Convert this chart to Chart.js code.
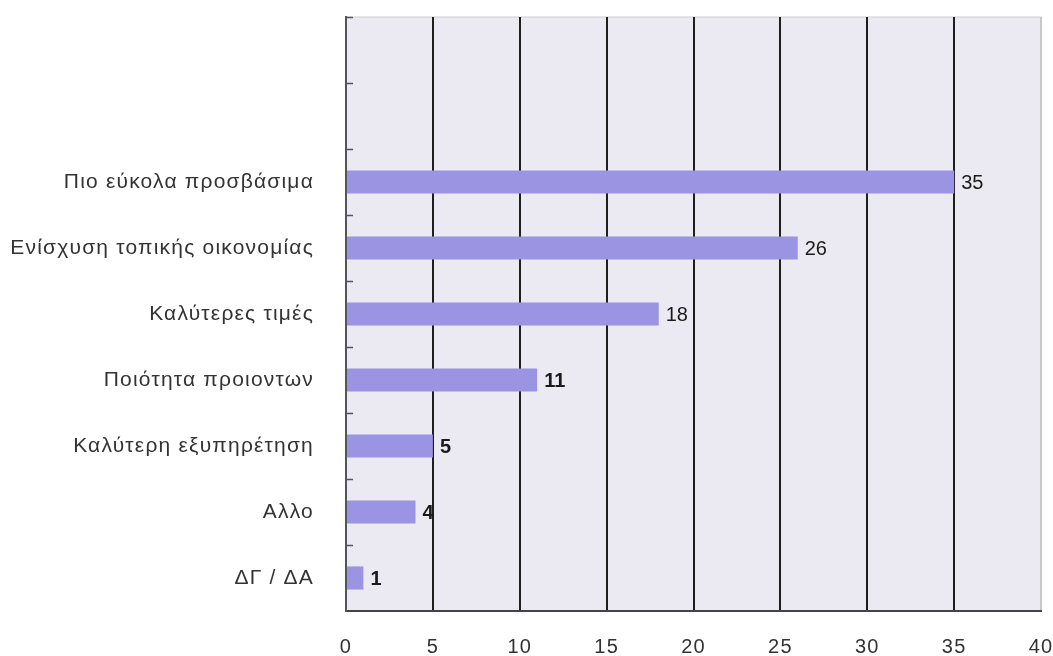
<!DOCTYPE html>
<html>
<head>
<meta charset="utf-8">
<script src="https://cdn.jsdelivr.net/npm/chart.js@4/dist/chart.umd.min.js"></script>
<style>
  html, body { margin: 0; padding: 0; background: #fff; }
  #wrap { width: 1053px; height: 656px; }
</style>
</head>
<body>
<div id="wrap"><canvas id="myChart" width="1053" height="656"></canvas></div>
<script>
// categories, top to bottom (two empty rows on top as in the original)
var reasons = ["", "", "Πιο εύκολα προσβάσιμα", "Ενίσχυση τοπικής οικονομίας", "Καλύτερες τιμές",
  "Ποιότητα προιοντων", "Καλύτερη εξυπηρέτηση", "Αλλο", "ΔΓ / ΔΑ"];
var counts = [null, null, 35, 26, 18, 11, 5, 4, 1];
var xTicks = [0, 5, 10, 15, 20, 25, 30, 35, 40];

var FONT = '"Liberation Sans", Arial, sans-serif';

// the scanned text is set a bit loose
var spacing = {
  id: 'spacing',
  beforeUpdate: function(chart) { chart.ctx.letterSpacing = '1.2px'; },
  beforeDraw: function(chart) { chart.ctx.letterSpacing = '1.2px'; }
};

// plot background + frame
var areaBg = {
  id: 'areaBg',
  beforeDraw: function(chart) {
    var a = chart.chartArea, c = chart.ctx;
    c.save();
    c.fillStyle = '#ebe9f1';
    c.fillRect(a.left, a.top, a.right - a.left, a.bottom - a.top);
    c.strokeStyle = '#cfcfd4';
    c.lineWidth = 1;
    c.strokeRect(a.left, a.top, a.right - a.left, a.bottom - a.top);
    c.restore();
  },
  afterDraw: function(chart) {
    // little tick marks on the inside of the category axis
    var y = chart.scales.y, a = chart.chartArea, c = chart.ctx;
    c.save();
    c.strokeStyle = '#555';
    c.lineWidth = 1.5;
    for (var i = 0; i < reasons.length; i++) {
      var py = Math.round(y.getPixelForValue(i - 0.5)) + 0.5;
      c.beginPath();
      c.moveTo(a.left, py);
      c.lineTo(a.left + 7, py);
      c.stroke();
    }
    c.restore();
  }
};

// numbers at the end of the bars
var barValues = {
  id: 'barValues',
  afterDatasetsDraw: function(chart) {
    var c = chart.ctx;
    var meta = chart.getDatasetMeta(0);
    c.save();
    c.letterSpacing = '0px';
    c.fillStyle = '#1a1a1a';
    c.textBaseline = 'middle';
    c.textAlign = 'left';
    meta.data.forEach(function(bar, i) {
      var v = counts[i];
      if (v === null) return;
      c.font = (v <= 11 ? 'bold ' : '') + '20px ' + FONT;
      c.fillText(v, bar.x + 7, bar.y + 1);
    });
    c.restore();
  }
};

var ctx = document.getElementById('myChart');
var chart = new Chart(ctx, {
  type: 'bar',
  data: {
    labels: reasons,
    datasets: [{
      data: counts,
      backgroundColor: '#9a94e2',
      borderWidth: 0,
      barPercentage: 0.35,
      categoryPercentage: 1
    }]
  },
  options: {
    indexAxis: 'y',
    responsive: false,
    animation: false,
    layout: { padding: { top: 17, right: 12, left: 0, bottom: 0 } },
    plugins: { legend: { display: false }, tooltip: { enabled: false } },
    scales: {
      x: {
        min: 0,
        max: 40,
        afterBuildTicks: function(axis) {
          axis.ticks = xTicks.map(function(v) { return { value: v }; });
        },
        afterFit: function(axis) {
          axis.height = 45;
          axis.paddingLeft = 0;
          axis.paddingRight = 0;
        },
        border: { display: true, color: '#444', width: 2 },
        grid: {
          drawTicks: false,
          lineWidth: 2,
          color: function(c) {
            if (c.index === 0) return '#444';
            if (c.index === xTicks.length - 1) return '#c8c8cc';
            return '#1e1e1e';
          }
        },
        ticks: {
          padding: 24,
          color: '#333',
          font: { family: FONT, size: 20 }
        }
      },
      y: {
        afterFit: function(axis) {
          axis.width = 346;
          axis.paddingTop = 0;
          axis.paddingBottom = 0;
        },
        border: { display: true, color: '#555', width: 2 },
        grid: { display: false },
        ticks: {
          padding: 24,
          color: '#333',
          font: { family: FONT, size: 21 }
        }
      }
    }
  },
  plugins: [spacing, areaBg, barValues]
});
</script>
</body>
</html>
